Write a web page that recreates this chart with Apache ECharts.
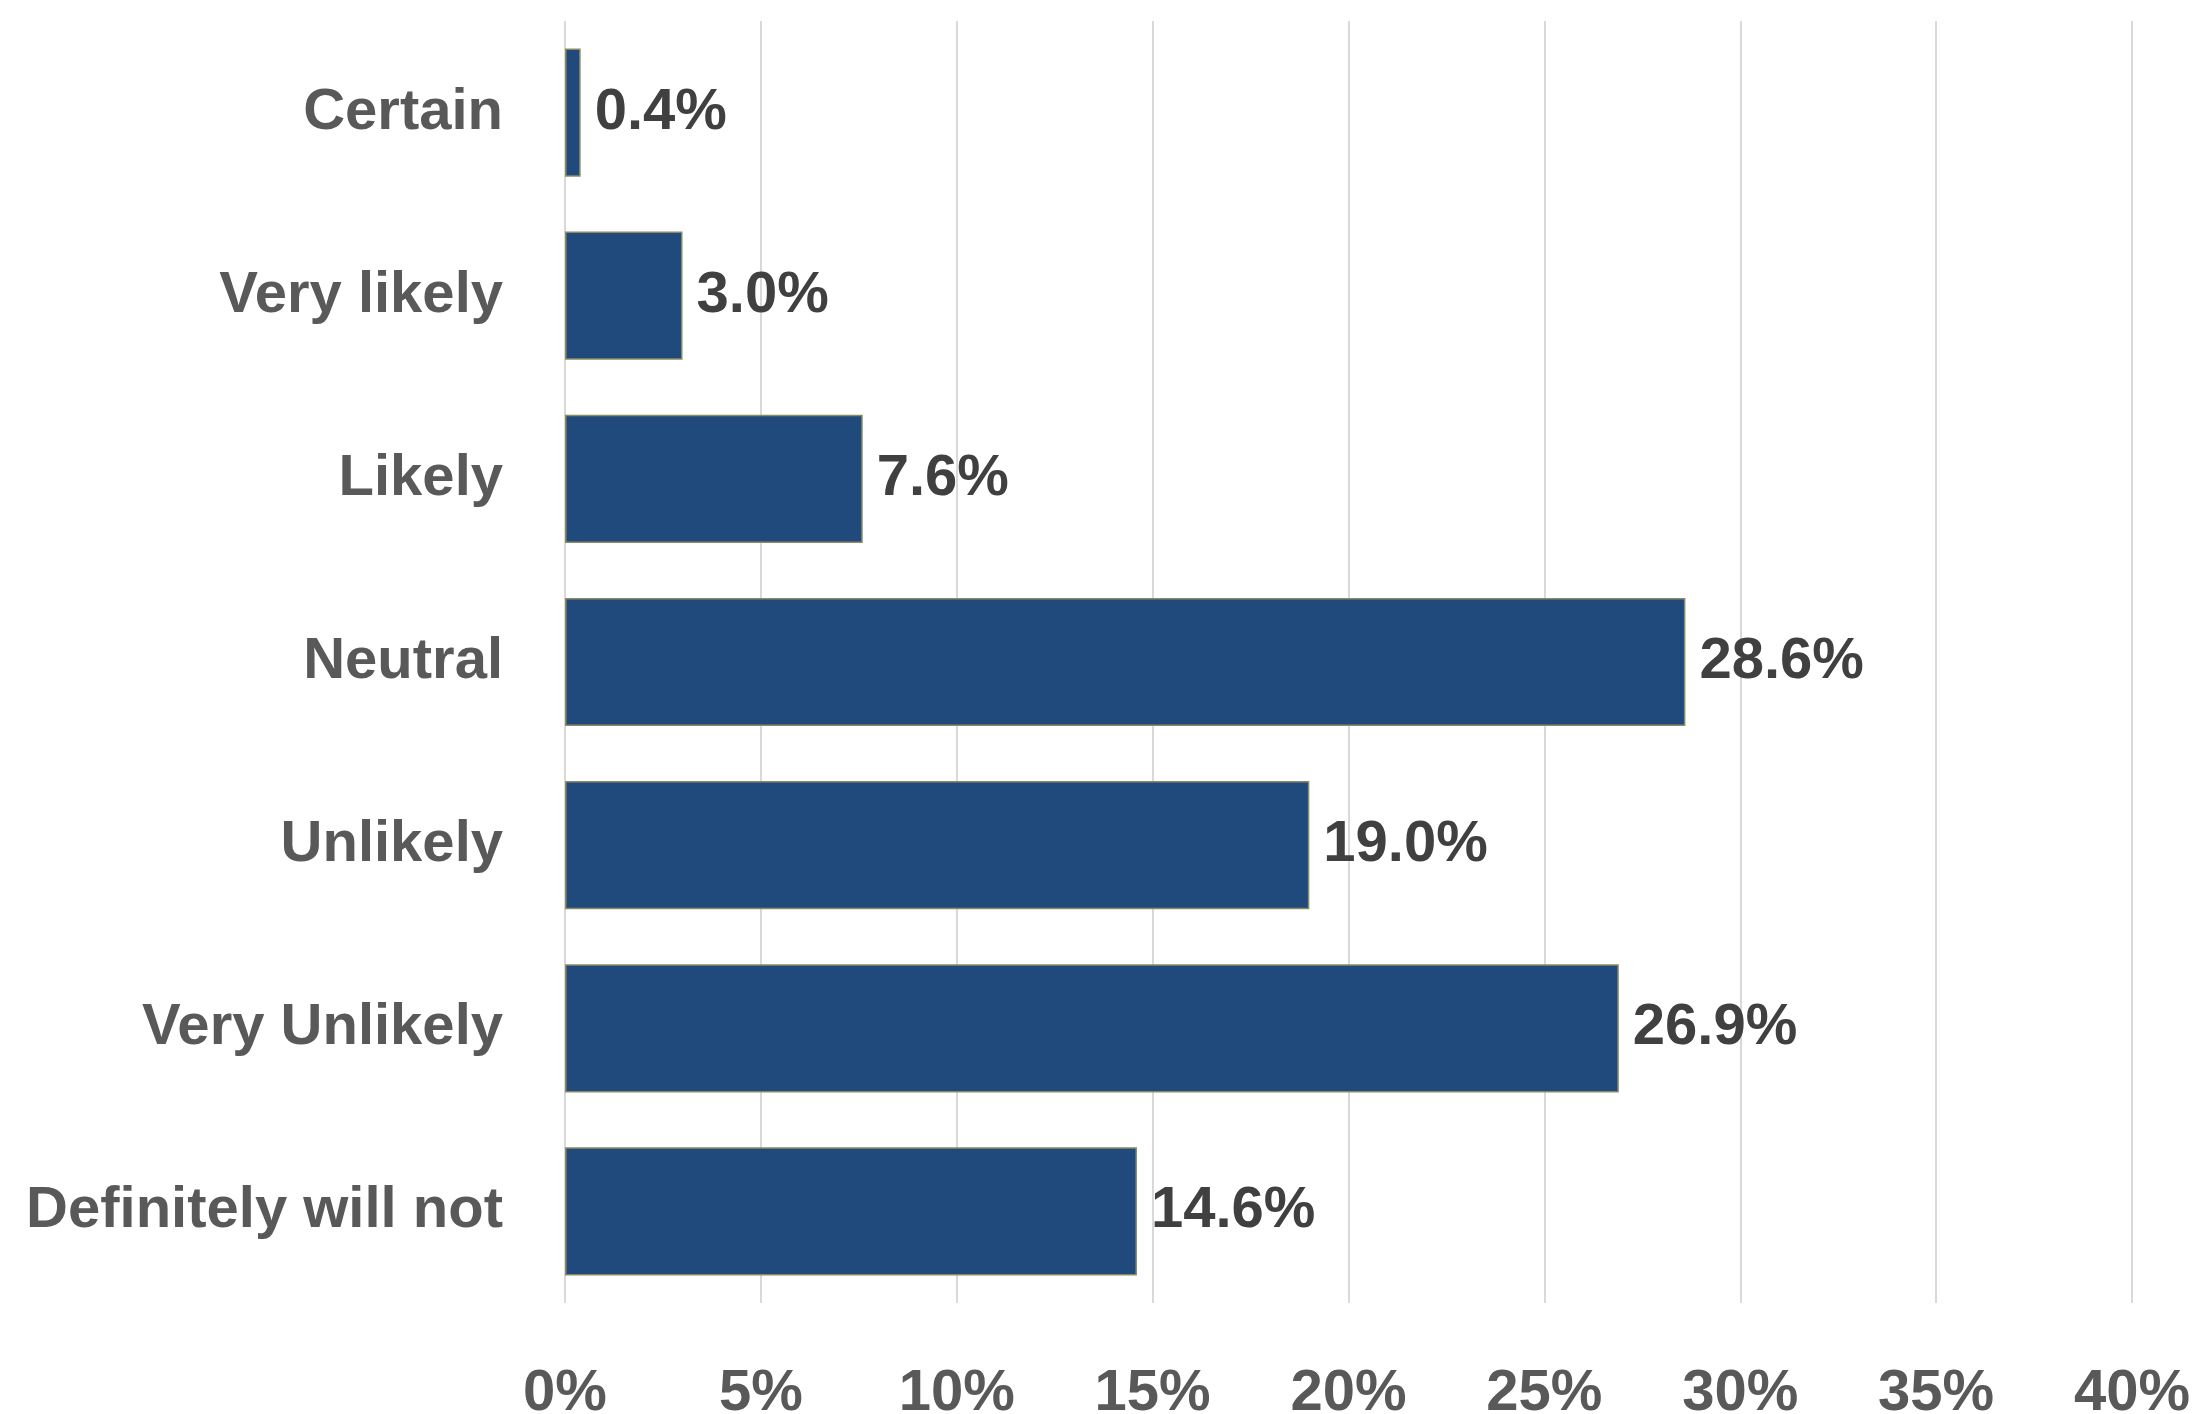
<!DOCTYPE html>
<html>
<head>
<meta charset="utf-8">
<style>
  html, body { margin: 0; padding: 0; background: #ffffff; }
  #chart { width: 2192px; height: 1414px; }
</style>
<script src="https://cdn.jsdelivr.net/npm/echarts@6/dist/echarts.min.js"></script>
</head>
<body>
<div id="chart"></div>
<script>
// Likelihood responses, top to bottom
const categories = ['Certain', 'Very likely', 'Likely', 'Neutral', 'Unlikely', 'Very Unlikely', 'Definitely will not'];
// Share of respondents (%)
const shares = [0.4, 3.0, 7.6, 28.6, 19.0, 26.9, 14.6];
// Value axis range and step (%)
const axisMin = 0;
const axisMax = 40;
const axisStep = 5;

const fontFamily = "'Liberation Sans', Arial, sans-serif";

const chart = echarts.init(document.getElementById('chart'), null, { renderer: 'canvas' });

chart.setOption({
  animation: false,
  backgroundColor: '#ffffff',
  grid: { left: 565, right: 60, top: 21, bottom: 111, containLabel: false, outerBoundsMode: 'none' },
  xAxis: {
    type: 'value',
    min: axisMin,
    max: axisMax,
    interval: axisStep,
    axisLine: { show: false },
    axisTick: { show: false },
    splitLine: { show: true, lineStyle: { color: '#d9d9d9', width: 2 } },
    axisLabel: {
      formatter: v => v + '%',
      color: '#595959',
      fontFamily: fontFamily,
      fontWeight: 'bold',
      fontSize: 58,
      margin: 62
    }
  },
  yAxis: {
    type: 'category',
    data: categories,
    inverse: true,
    axisLine: { show: false },
    axisTick: { show: false },
    splitLine: { show: false },
    axisLabel: {
      color: '#595959',
      fontFamily: fontFamily,
      fontWeight: 'bold',
      fontSize: 58,
      margin: 62
    }
  },
  series: [{
    type: 'bar',
    data: shares,
    barCategoryGap: '30%',
    itemStyle: {
      color: '#214a7c',
      borderColor: '#8c8a62',
      borderWidth: 1.5
    },
    label: {
      show: true,
      position: 'right',
      distance: 14,
      formatter: p => p.value.toFixed(1) + '%',
      color: '#404040',
      fontFamily: fontFamily,
      fontWeight: 'bold',
      fontSize: 58
    }
  }]
});
</script>
</body>
</html>
